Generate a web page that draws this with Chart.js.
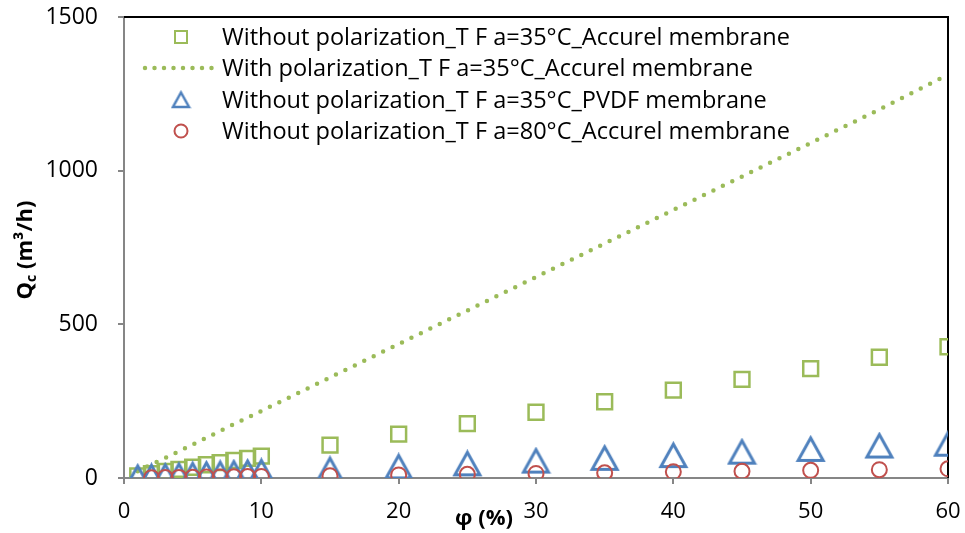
<!DOCTYPE html>
<html>
<head>
<meta charset="utf-8">
<script src="https://cdn.jsdelivr.net/npm/chart.js@4.4.1/dist/chart.umd.min.js"></script>
<style>
  html, body { margin: 0; padding: 0; background: #fff; }
  #wrap { width: 965px; height: 533px; }
</style>
</head>
<body>
<div id="wrap"><canvas id="chart"></canvas></div>
<script>
// phi (%) values for each series
const PHI = [1, 2, 3, 4, 5, 6, 7, 8, 9, 10, 15, 20, 25, 30, 35, 40, 45, 50, 55, 60];
const PHI_80 = [2, 3, 4, 5, 6, 7, 8, 9, 10, 15, 20, 25, 30, 35, 40, 45, 50, 55, 60];

// Qc (m3/h)
const Q_ACCUREL_35 = [7, 14, 21, 28, 35, 43, 50, 57, 64, 71, 107, 143, 177, 214, 248, 286, 321, 356, 393, 427];
const Q_POLAR_35 = [22, 44, 65, 87, 109, 131, 153, 175, 196, 218, 327, 436, 545, 654, 763, 872, 981, 1090, 1199, 1312];
const Q_PVDF_35 = [2, 4, 6, 8, 10, 12, 14, 16, 18, 20, 27, 36, 46, 55, 64, 73, 84, 93, 104, 110];
const Q_ACCUREL_80 = [1, 1.5, 2, 2.5, 3, 3.5, 4, 4.5, 5, 7, 10, 12, 15, 17, 20, 22, 25, 27, 30];

const LABELS = [
    "Without polarization_T F a=35°C_Accurel membrane",
    "With polarization_T F a=35°C_Accurel membrane",
    "Without polarization_T F a=35°C_PVDF membrane",
    "Without polarization_T F a=80°C_Accurel membrane"
];

const X_TITLE = "φ (%)";
const Y_TITLE = ["Q", "c", " (m³/h)"];

const GREEN = "#9BBB59";
const BLUE = "#4F81BD";
const RED = "#C0504D";
const AXIS_GRAY = "#868686";
const FONT = "'Open Sans', 'Noto Sans', sans-serif";

function pairs(xs, ys) {
    return xs.map((x, i) => ({ x: x, y: ys[i] }));
}

// triangle marker centred on its bounding box (like Excel)
function triangleMarker(w, lw, color) {
    const h = w * 0.9;
    const c = document.createElement("canvas");
    c.width = Math.ceil(w + lw * 2);
    c.height = Math.ceil(h + lw * 2);
    const g = c.getContext("2d");
    g.strokeStyle = color;
    g.lineWidth = lw;
    g.lineJoin = "miter";
    g.beginPath();
    g.moveTo(c.width / 2, lw);
    g.lineTo(c.width - lw, lw + h);
    g.lineTo(lw, lw + h);
    g.closePath();
    g.stroke();
    return c;
}

const TRI = triangleMarker(25, 3, BLUE);
const TRI_SMALL = triangleMarker(16, 2.5, BLUE);

// legend drawn inside the plot area, top-left
const insideLegend = {
    id: "insideLegend",
    afterDraw(chart) {
        const ctx = chart.ctx;
        ctx.save();
        ctx.font = "22px " + FONT;
        const w = ctx.measureText(LABELS[0]).width;
        const size = 22 * 568 / w;
        ctx.font = size + "px " + FONT;
        ctx.fillStyle = "#000";
        ctx.textBaseline = "middle";
        const rows = [37, 68, 100, 131];
        const mx = 181;
        rows.forEach((y, i) => {
            ctx.fillText(LABELS[i], 222, y + 1);
            if (i === 0) {
                ctx.strokeStyle = GREEN;
                ctx.lineWidth = 2;
                ctx.strokeRect(mx - 6, y - 6, 12, 12);
            } else if (i === 1) {
                ctx.strokeStyle = GREEN;
                ctx.lineWidth = 4.5;
                ctx.lineCap = "round";
                ctx.setLineDash([0, 9.5]);
                ctx.beginPath();
                ctx.moveTo(145, y);
                ctx.lineTo(212, y);
                ctx.stroke();
                ctx.setLineDash([]);
                ctx.lineCap = "butt";
            } else if (i === 2) {
                ctx.drawImage(TRI_SMALL, mx - TRI_SMALL.width / 2, y - TRI_SMALL.height / 2);
            } else {
                ctx.strokeStyle = RED;
                ctx.lineWidth = 2;
                ctx.beginPath();
                ctx.arc(mx, y, 6.5, 0, Math.PI * 2);
                ctx.stroke();
            }
        });
        ctx.restore();
    }
};

// axis titles, border on top and right
const decorations = {
    id: "decorations",
    beforeDatasetsDraw(chart) {
        const ctx = chart.ctx;
        const a = chart.chartArea;
        ctx.save();
        ctx.strokeStyle = "#000";
        ctx.lineWidth = 2;
        ctx.beginPath();
        ctx.moveTo(a.left, a.top);
        ctx.lineTo(a.right, a.top);
        ctx.lineTo(a.right, a.bottom);
        ctx.stroke();
        ctx.restore();
    },
    afterDraw(chart) {
        const ctx = chart.ctx;
        ctx.save();
        ctx.fillStyle = "#000";
        ctx.textBaseline = "alphabetic";
        // x title
        ctx.font = "bold 22px " + FONT;
        ctx.textAlign = "center";
        ctx.fillText(X_TITLE, 484, 525);
        // y title with subscript
        ctx.translate(32, 250);
        ctx.rotate(-Math.PI / 2);
        const big = "bold 22px " + FONT;
        const small = "bold 14px " + FONT;
        ctx.font = big;
        const w1 = ctx.measureText(Y_TITLE[0]).width;
        const w3 = ctx.measureText(Y_TITLE[2]).width;
        ctx.font = small;
        const w2 = ctx.measureText(Y_TITLE[1]).width;
        let x = -(w1 + w2 + w3) / 2;
        ctx.textAlign = "left";
        ctx.font = big;
        ctx.fillText(Y_TITLE[0], x, 0);
        x += w1;
        ctx.font = small;
        ctx.fillText(Y_TITLE[1], x, 4);
        x += w2;
        ctx.font = big;
        ctx.fillText(Y_TITLE[2], x, 0);
        ctx.restore();
    }
};

const ctx = document.getElementById("chart").getContext("2d");

new Chart(ctx, {
    type: "scatter",
    data: {
        datasets: [
            {
                label: LABELS[0],
                data: pairs(PHI, Q_ACCUREL_35),
                pointStyle: "rect",
                pointRadius: 10.5,
                pointHoverRadius: 10.5,
                borderColor: GREEN,
                backgroundColor: "rgba(0,0,0,0)",
                borderWidth: 2.5,
                showLine: false,
                order: 3
            },
            {
                label: LABELS[1],
                data: pairs(PHI, Q_POLAR_35),
                showLine: true,
                pointRadius: 0,
                borderColor: GREEN,
                borderWidth: 4.5,
                borderDash: [0, 10.5],
                borderCapStyle: "round",
                fill: false,
                order: 4
            },
            {
                label: LABELS[2],
                data: pairs(PHI, Q_PVDF_35),
                pointStyle: TRI,
                pointRadius: 13,
                borderColor: BLUE,
                backgroundColor: "rgba(0,0,0,0)",
                showLine: false,
                order: 2
            },
            {
                label: LABELS[3],
                data: pairs(PHI_80, Q_ACCUREL_80),
                pointStyle: "circle",
                pointRadius: 7.5,
                pointHoverRadius: 7.5,
                borderColor: RED,
                backgroundColor: "rgba(0,0,0,0)",
                borderWidth: 2,
                showLine: false,
                order: 1
            }
        ]
    },
    options: {
        responsive: true,
        maintainAspectRatio: false,
        animation: false,
        events: [],
        layout: { padding: { top: 17, right: 17, left: 0, bottom: 0 } },
        plugins: {
            legend: { display: false },
            tooltip: { enabled: false }
        },
        scales: {
            x: {
                type: "linear",
                min: 0,
                max: 60,
                afterFit(scale) {
                    scale.height = 55;
                    scale.paddingLeft = 0;
                    scale.paddingRight = 0;
                },
                ticks: {
                    stepSize: 10,
                    color: "#000",
                    font: { family: FONT, size: 22 },
                    padding: 15,
                    maxRotation: 0
                },
                grid: {
                    drawOnChartArea: false,
                    drawTicks: true,
                    tickLength: 6,
                    color: AXIS_GRAY,
                    lineWidth: 2
                },
                border: { color: AXIS_GRAY, width: 2 }
            },
            y: {
                type: "linear",
                min: 0,
                max: 1500,
                afterFit(scale) {
                    scale.width = 124;
                    scale.paddingTop = 0;
                    scale.paddingBottom = 0;
                },
                ticks: {
                    stepSize: 500,
                    color: "#000",
                    font: { family: FONT, size: 23 },
                    padding: 20,
                    callback: (v) => String(v)
                },
                grid: {
                    drawOnChartArea: false,
                    drawTicks: true,
                    tickLength: 6,
                    color: AXIS_GRAY,
                    lineWidth: 2
                },
                border: { color: AXIS_GRAY, width: 2 }
            }
        }
    },
    plugins: [decorations, insideLegend]
});
</script>
</body>
</html>
